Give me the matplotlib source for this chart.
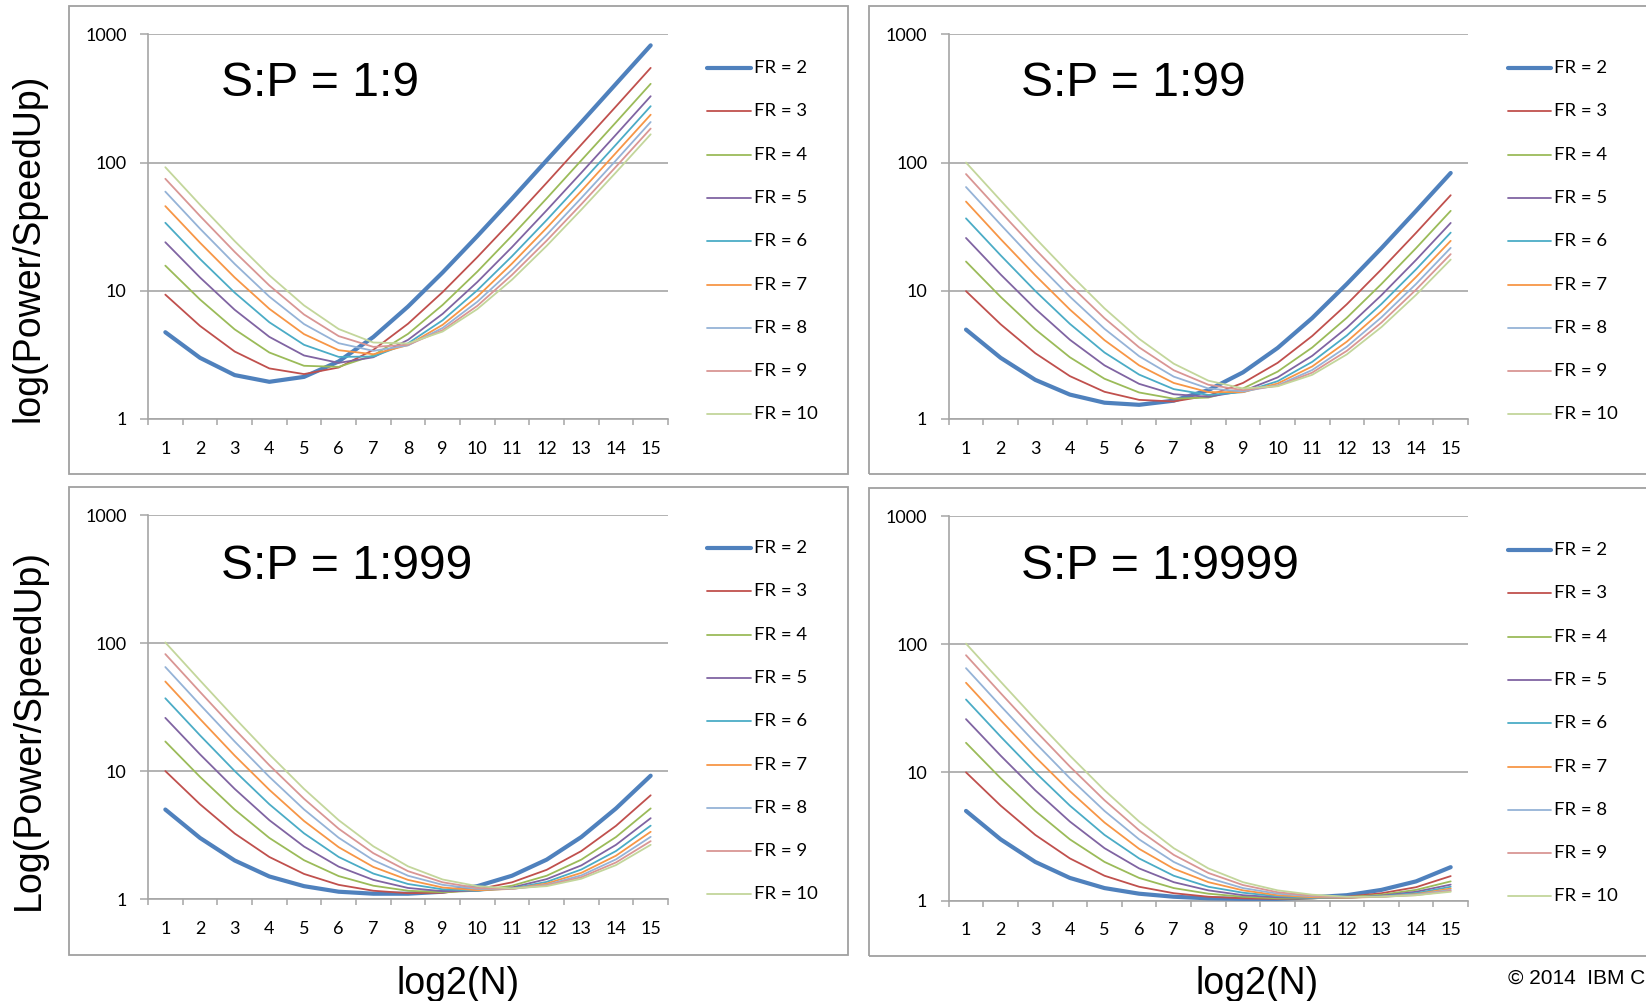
import numpy as np
import matplotlib
matplotlib.use("Agg")
import matplotlib.pyplot as plt
from matplotlib.lines import Line2D
from matplotlib.patches import Rectangle
from matplotlib.ticker import NullLocator

# ---------------- data ----------------
log2_n = list(range(1, 16))
x_labels = [str(v) for v in log2_n]
fr_values = [2, 3, 4, 5, 6, 7, 8, 9, 10]
series_colors = ["#4F81BD", "#C0504D", "#9BBB59", "#8064A2", "#4BACC6",
                 "#F79646", "#95B3D7", "#D99694", "#C3D69B"]
panel_titles = ["S:P = 1:9", "S:P = 1:99", "S:P = 1:999", "S:P = 1:9999"]

sp_1_9 = [
    [4.75, 3.00, 2.20, 1.95, 2.13, 2.81, 4.36, 7.53, 13.9, 26.7, 52.3, 104, 206, 411, 820],
    [9.33, 5.32, 3.36, 2.48, 2.24, 2.52, 3.46, 5.53, 9.77, 18.3, 35.3, 69.5, 138, 274, 547],
    [15.7, 8.55, 5.00, 3.30, 2.60, 2.55, 3.13, 4.61, 7.76, 14.1, 26.9, 52.5, 104, 206, 411],
    [23.9, 12.7, 7.11, 4.37, 3.13, 2.74, 3.03, 4.14, 6.61, 11.7, 21.9, 42.4, 83.3, 165, 329],
    [33.9, 17.7, 9.67, 5.68, 3.79, 3.05, 3.07, 3.89, 5.89, 10.1, 18.6, 35.6, 69.8, 138, 275],
    [45.7, 23.7, 12.7, 7.23, 4.59, 3.44, 3.20, 3.77, 5.43, 9.00, 16.3, 30.9, 60.1, 119, 236],
    [59.3, 30.5, 16.2, 9.00, 5.50, 3.90, 3.40, 3.75, 5.13, 8.21, 14.6, 27.3, 52.9, 104, 207],
    [74.7, 38.3, 20.1, 11.0, 6.53, 4.43, 3.65, 3.79, 4.93, 7.63, 13.3, 24.6, 47.3, 92.8, 184],
    [91.9, 46.9, 24.4, 13.2, 7.69, 5.03, 3.95, 3.88, 4.81, 7.20, 12.2, 22.4, 42.9, 83.8, 166],
]
sp_1_99 = [
    [4.98, 3.00, 2.02, 1.55, 1.34, 1.29, 1.39, 1.68, 2.31, 3.58, 6.13, 11.3, 21.5, 42.0, 82.9],
    [9.93, 5.48, 3.26, 2.16, 1.63, 1.41, 1.37, 1.52, 1.91, 2.74, 4.44, 7.85, 14.7, 28.3, 55.6],
    [16.9, 8.96, 5.00, 3.03, 2.06, 1.61, 1.44, 1.47, 1.73, 2.34, 3.61, 6.16, 11.3, 21.5, 42.0],
    [25.8, 13.4, 7.24, 4.15, 2.62, 1.88, 1.56, 1.49, 1.65, 2.11, 3.11, 5.15, 9.24, 17.4, 33.8],
    [36.7, 18.9, 9.97, 5.52, 3.30, 2.22, 1.71, 1.54, 1.62, 1.97, 2.79, 4.48, 7.89, 14.7, 28.4],
    [49.6, 25.3, 13.2, 7.14, 4.12, 2.62, 1.91, 1.62, 1.62, 1.89, 2.57, 4.01, 6.92, 12.8, 24.5],
    [64.4, 32.8, 16.9, 9.00, 5.05, 3.09, 2.14, 1.73, 1.64, 1.83, 2.41, 3.66, 6.21, 11.3, 21.6],
    [81.3, 41.2, 21.1, 11.1, 6.11, 3.62, 2.40, 1.85, 1.68, 1.81, 2.30, 3.40, 5.65, 10.2, 19.3],
    [100, 50.6, 25.8, 13.5, 7.29, 4.22, 2.70, 1.99, 1.73, 1.80, 2.21, 3.19, 5.21, 9.29, 17.5],
]
sp_1_999 = [
    [5.00, 3.00, 2.00, 1.50, 1.26, 1.14, 1.10, 1.10, 1.14, 1.26, 1.52, 2.03, 3.05, 5.10, 9.19],
    [9.99, 5.50, 3.25, 2.13, 1.57, 1.29, 1.16, 1.11, 1.12, 1.19, 1.35, 1.69, 2.37, 3.73, 6.46],
    [17.0, 9.00, 5.00, 3.00, 2.01, 1.51, 1.27, 1.16, 1.13, 1.16, 1.27, 1.52, 2.03, 3.05, 5.10],
    [26.0, 13.5, 7.25, 4.13, 2.57, 1.79, 1.41, 1.22, 1.15, 1.16, 1.23, 1.43, 1.83, 2.65, 4.28],
    [37.0, 19.0, 10.0, 5.50, 3.26, 2.13, 1.58, 1.31, 1.19, 1.16, 1.21, 1.36, 1.70, 2.37, 3.74],
    [50.0, 25.5, 13.2, 7.13, 4.07, 2.54, 1.78, 1.41, 1.23, 1.17, 1.20, 1.32, 1.60, 2.18, 3.35],
    [64.9, 33.0, 17.0, 9.00, 5.01, 3.01, 2.01, 1.52, 1.29, 1.20, 1.20, 1.29, 1.53, 2.04, 3.06],
    [81.9, 41.5, 21.2, 11.1, 6.07, 3.54, 2.28, 1.65, 1.35, 1.22, 1.20, 1.28, 1.48, 1.93, 2.83],
    [101, 51.0, 26.0, 13.5, 7.25, 4.13, 2.58, 1.80, 1.42, 1.26, 1.21, 1.26, 1.44, 1.84, 2.65],
]
sp_1_9999 = [
    [5.00, 3.00, 2.00, 1.50, 1.25, 1.13, 1.07, 1.04, 1.03, 1.03, 1.06, 1.10, 1.21, 1.41, 1.82],
    [10.0, 5.50, 3.25, 2.13, 1.56, 1.28, 1.14, 1.07, 1.04, 1.03, 1.04, 1.07, 1.14, 1.27, 1.55],
    [17.0, 9.00, 5.00, 3.00, 2.00, 1.50, 1.25, 1.13, 1.07, 1.04, 1.04, 1.06, 1.11, 1.21, 1.41],
    [26.0, 13.5, 7.25, 4.13, 2.56, 1.78, 1.39, 1.20, 1.10, 1.06, 1.05, 1.05, 1.09, 1.17, 1.33],
    [37.0, 19.0, 10.0, 5.50, 3.25, 2.13, 1.56, 1.28, 1.15, 1.08, 1.05, 1.05, 1.08, 1.14, 1.28],
    [50.0, 25.5, 13.2, 7.13, 4.06, 2.53, 1.77, 1.39, 1.20, 1.10, 1.06, 1.05, 1.07, 1.12, 1.24],
    [65.0, 33.0, 17.0, 9.00, 5.00, 3.00, 2.00, 1.50, 1.25, 1.13, 1.08, 1.06, 1.07, 1.11, 1.21],
    [82.0, 41.5, 21.2, 11.1, 6.06, 3.53, 2.27, 1.64, 1.32, 1.16, 1.09, 1.06, 1.07, 1.10, 1.19],
    [101, 51.0, 26.0, 13.5, 7.25, 4.13, 2.56, 1.78, 1.39, 1.20, 1.11, 1.07, 1.07, 1.10, 1.17],
]
panel_data = [sp_1_9, sp_1_99, sp_1_999, sp_1_9999]

y_ticks = [1, 10, 100, 1000]
y_tick_labels = ["1", "10", "100", "1000"]

# ---------------- layout (pixels) ----------------
W, H = 1646, 1001
def fx(px):
    return px / W
def fy(py):
    return 1 - py / H

GRID = "#A6A6A6"
FRAME = "#A0A0A0"
TICK_FONT = "Lato"
ARIAL = "Liberation Sans"

layout = [
    dict(ax=(148, 668, 34.3, 419), frame=(69, 6, 848, 474), leg=(707, 751, 68), title=(221, 96)),
    dict(ax=(948.7, 1468, 34.3, 419), frame=(869, 6, 1700, 474), leg=(1508, 1551, 68), title=(1021, 96)),
    dict(ax=(148, 668, 515, 899), frame=(69, 487, 848, 955), leg=(707, 751, 548), title=(221, 579)),
    dict(ax=(948.7, 1468, 516, 900.5), frame=(869, 488, 1700, 956), leg=(1508, 1551, 550), title=(1021, 579)),
]
LEG_STEP = 43.3

fig = plt.figure(figsize=(W / 100, H / 100), dpi=100)
fig.patch.set_facecolor("white")

for p, cfg in enumerate(layout):
    x0, y0, x1, y1 = cfg["frame"]
    fig.add_artist(Rectangle((fx(x0), fy(y1)), (x1 - x0) / W, (y1 - y0) / H,
                             transform=fig.transFigure, fill=False,
                             edgecolor=FRAME, linewidth=1.3, zorder=0))

    l, r, t, b = cfg["ax"]
    ax = fig.add_axes([fx(l), fy(b), (r - l) / W, (b - t) / H])
    ax.set_facecolor("none")
    data = panel_data[p]
    for i, fr in enumerate(fr_values):
        ax.plot(log2_n, data[i], color=series_colors[i],
                linewidth=3.0 if i == 0 else 1.3,
                solid_joinstyle="round", solid_capstyle="round", zorder=3)

    ax.set_yscale("log")
    ax.set_ylim(1, 1000)
    ax.set_xlim(0.5, 15.5)
    ax.set_yticks(y_ticks)
    ax.set_yticklabels(y_tick_labels, fontfamily=TICK_FONT, fontsize=13)
    ax.yaxis.set_minor_locator(NullLocator())
    ax.set_xticks(np.arange(0.5, 15.6, 1.0))
    ax.set_xticklabels([])
    ax.set_xticks(log2_n, minor=True)
    ax.set_xticklabels(x_labels, minor=True, fontfamily=TICK_FONT, fontsize=13)
    ax.tick_params(axis="x", which="major", length=4.3, width=1.1, color=GRID, direction="out")
    ax.tick_params(axis="x", which="minor", length=0, pad=15.5)
    ax.tick_params(axis="y", which="major", length=5.8, width=1.1, color=GRID,
                   direction="out", pad=9.6)
    ax.grid(axis="y", which="major", color=GRID, linewidth=1.2)
    ax.set_axisbelow(True)
    for s in ["top", "right"]:
        ax.spines[s].set_visible(False)
    for s in ["left", "bottom"]:
        ax.spines[s].set_color(GRID)
        ax.spines[s].set_linewidth(1.2)

    # legend
    lx0, lx1, ly0 = cfg["leg"]
    for i, fr in enumerate(fr_values):
        yy = ly0 + i * LEG_STEP
        fig.add_artist(Line2D([fx(lx0), fx(lx1)], [fy(yy), fy(yy)], transform=fig.transFigure,
                              color=series_colors[i], linewidth=3.0 if i == 0 else 1.3,
                              solid_capstyle="round"))
        fig.text(fx(lx1 + 3), fy(yy), f"FR = {fr}", fontsize=13.3, fontfamily=TICK_FONT,
                 ha="left", va="center")

    tx, ty = cfg["title"]
    fig.text(fx(tx), fy(ty), panel_titles[p], fontsize=34.6, fontfamily=ARIAL,
             ha="left", va="baseline")

fig.text(fx(29), fy(248), "log(Power/SpeedUp)", rotation=90, fontsize=27,
         fontfamily=ARIAL, ha="center", va="center")
fig.text(fx(29), fy(730), "Log(Power/SpeedUp)", rotation=90, fontsize=27,
         fontfamily=ARIAL, ha="center", va="center")
fig.text(fx(458), fy(994), "log2(N)", fontsize=27, fontfamily=ARIAL, ha="center", va="baseline")
fig.text(fx(1257), fy(994), "log2(N)", fontsize=27, fontfamily=ARIAL, ha="center", va="baseline")
fig.text(fx(1508), fy(978), "\u00a9 2014  IBM C", fontsize=15, fontfamily=ARIAL,
         ha="left", va="center")

fig.savefig("out.png", dpi=100, facecolor="white")
